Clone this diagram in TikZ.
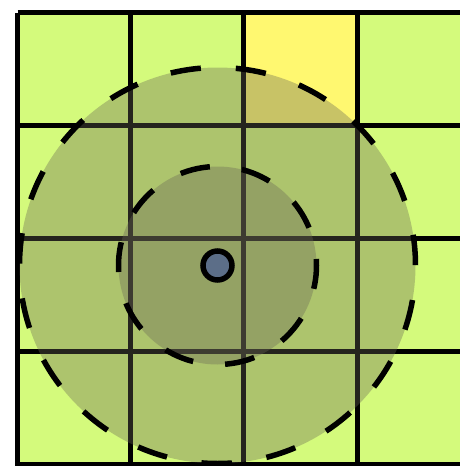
\documentclass[tikz,border=0pt]{standalone}
\begin{document}
\begin{tikzpicture}[x=1pt,y=-1pt,
  cellg/.style={fill={rgb,255:red,212;green,250;blue,124}},
  celly/.style={fill={rgb,255:red,255;green,248;blue,112}},
  gridline/.style={draw=black,line width=5pt},
  zone/.style={fill={rgb,255:red,105;green,102;blue,85},fill opacity=0.36,draw=black,line width=5.5pt},
  dotstyle/.style={circle,fill={rgb,255:red,92;green,110;blue,136},draw=black,line width=5.5pt,minimum size=29pt,inner sep=0pt}]
\useasboundingbox (0,0) rectangle (460,466);
\clip (0,0) rectangle (460,466);
% cells
\fill[cellg] (17.5,12.5) rectangle (480,470);
\fill[celly] (243.9,12.5) rectangle (357.1,125.5);
% grid lines
\foreach \x in {17.5,130.7,243.9,357.1} \draw[gridline] (\x,12.5) -- (\x,470);
\foreach \y in {12.5,125.5,238.5,351.5,464.5} \draw[gridline] (17.5,\y) -- (480,\y);
% zones
\coordinate (c) at (217.5,265.5);
\draw[zone,dash pattern=on 30.5pt off 34.98pt,dash phase=30.73pt] (c) circle[radius=198];
\draw[zone,dash pattern=on 30pt off 32.2pt,dash phase=6.5pt] (c) circle[radius=99];
\node[dotstyle] (dot) at (c) {};
\end{tikzpicture}
\end{document}
